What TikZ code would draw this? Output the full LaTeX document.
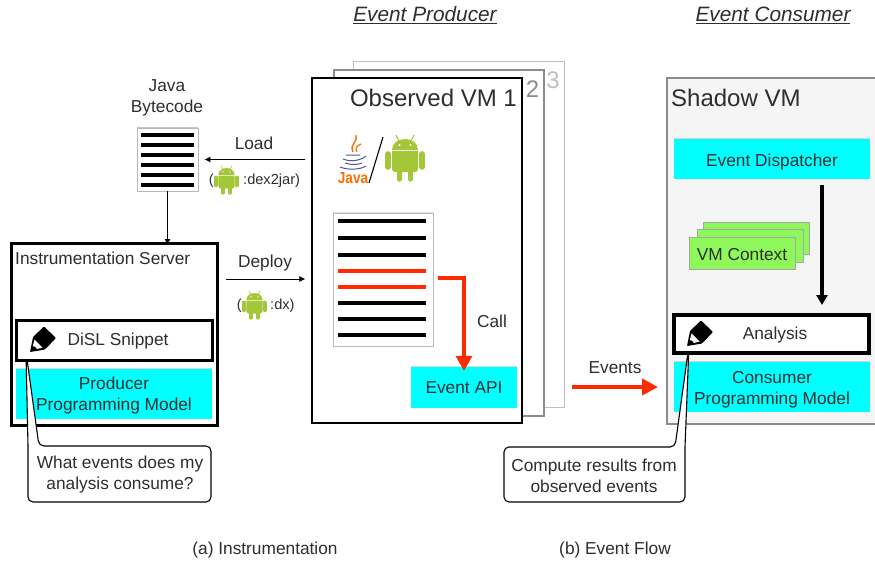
\documentclass[tikz,border=0pt]{standalone}
\usepackage{fontspec}
\setmainfont{Liberation Sans}
\usetikzlibrary{arrows.meta,shadows,calc}
\definecolor{txt}{HTML}{2E2E2E}
\definecolor{cyanbox}{HTML}{00FFFF}
\definecolor{ctxgreen}{HTML}{8EF85A}
\definecolor{andgreen}{HTML}{A4C639}
\definecolor{redarrow}{HTML}{FF2A00}
\definecolor{shadowbg}{HTML}{F5F5F5}
\tikzset{
  every node/.style={text=txt,font=\fontsize{17.3}{21}\selectfont,inner sep=0pt,align=center},
  boxat/.style 2 args={minimum width=#1,minimum height=#2,anchor=center},
  cyanrect/.style={fill=cyanbox,drop shadow={shadow xshift=0pt,shadow yshift=1.5pt,opacity=.3}},
  ctx/.style={fill=ctxgreen,draw=gray!70,line width=.8pt},
  docrect/.style={fill=white,draw=gray!55,line width=.9pt},
  vmlabel/.style={font=\fontsize{24}{28}\selectfont},
  heading/.style={font=\fontsize{20.8}{24}\selectfont\itshape},
  smalllabel/.style={font=\fontsize{14.6}{18}\selectfont},
  thinarrow/.style={-{Latex[length=6pt,width=6pt]},line width=.9pt,black},
  docline/.style={line width=3.6pt,black},
  redline/.style={line width=3.4pt,redarrow},
  calloutline/.style={fill=white,draw=black,line width=1.1pt,rounded corners=5pt,line join=round}
}
\newcommand{\androidlogo}[3]{%
  \begin{scope}[shift={(#1,#2)},scale=#3]
    \fill[andgreen] (-13,-9) .. controls (-13,-16) and (-7,-20) .. (0,-20) .. controls (7,-20) and (13,-16) .. (13,-9) -- cycle;
    \draw[andgreen,line width=#3*1pt] (-6,-18) -- (-9,-24) (6,-18) -- (9,-24);
    \fill[white] (-5.5,-14) circle (1.1) (5.5,-14) circle (1.1);
    \fill[andgreen] (-13,-8) -- (13,-8) -- (13,10) .. controls (13,12) and (12,13) .. (10,13) -- (-10,13) .. controls (-12,13) and (-13,12) .. (-13,10) -- cycle;
    \draw[andgreen,line width=#3*5.6pt,line cap=round] (-17,-5) -- (-17,8) (17,-5) -- (17,8) (-5.5,12) -- (-5.5,20) (5.5,12) -- (5.5,20);
  \end{scope}}
\newcommand{\pencilmark}[2]{%
  \begin{scope}[shift={(#1,#2)}]
    \fill[black,rounded corners=.8pt] (14,-25.5) -- (26,-14) -- (15,-2.5) -- (0,0) -- (3,-15) -- cycle;
    \fill[white] (4.5,-12.5) -- (12.5,-4.5) -- (7,-3) .. controls (5,-6) and (4,-6) .. (2.8,-5.5) -- cycle;
  \end{scope}}
\begin{document}
\begin{tikzpicture}[x=1pt,y=-1pt]
\useasboundingbox (0,0) rectangle (875,562);
\fill[white] (0,0) rectangle (875,562);

% headings
\node[heading] (prodhead) at (425,15) {\underline{Event Producer}};
\node[heading] (conshead) at (773,15) {\underline{Event Consumer}};

% stacked observed VMs
\node[boxat={211pt}{346pt},fill=white,draw=gray!50,line width=1pt] (vmthree) at (458.5,234) {};
\node[boxat={210pt}{346pt},fill=white,draw=gray!90,line width=1.1pt] (vmtwo) at (439,243) {};
\node[boxat={210pt}{345pt},fill=white,draw=black,line width=1.2pt] (vmone) at (417,250.5) {};
\node[vmlabel,text=gray!50,anchor=center] (nthree) at (553,80) {3};
\node[vmlabel,text=gray!90,anchor=center] (ntwo) at (532.5,89) {2};
\node[vmlabel,anchor=east] (vmtitle) at (517,98) {Observed VM 1};

% java logo
\draw[orange!85!red,line width=1.4pt] (356,135) .. controls (359,141) and (349,144) .. (353,152);
\draw[orange!85!red,line width=1.2pt] (361,144) .. controls (356,146) and (355,149) .. (357,152);
\draw[blue!35!gray,line width=1pt] (346,155) -- (360,155) (343,159) .. controls (350,162) and (360,161) .. (366,156) (345,163) .. controls (350,165) and (358,165) .. (362,163) (340,167) .. controls (347,170) and (360,170) .. (366,166);
\node[font=\fontsize{16}{16}\bfseries,text=orange!85!red,xscale=.85] (javaword) at (353,178) {Java};
\draw[black,line width=1.1pt] (383,137) -- (369,183);
\androidlogo{405}{159}{1}

% observed VM document
\node[boxat={100pt}{133pt},docrect,drop shadow={shadow xshift=0pt,shadow yshift=1pt,opacity=.25}] (vmdoc) at (383,279.5) {};
\foreach \yy in {221,238,255,303,319,335} \draw[docline] (338,\yy) -- (426,\yy);
\foreach \yy in {271,287} \draw[redline] (338,\yy) -- (426,\yy);
\node[boxat={106pt}{41pt},cyanrect] (api) at (464,387.5) {Event API};
\coordinate (callstart) at (438,278);
\draw[redline,-{Triangle[length=15pt,width=16pt]}] (callstart) -- (api.north |- callstart) -- ([yshift=-4pt]api.north);
\node (calllabel) at (492,321.5) {Call};

% bytecode
\node (bctitle) at (167,98) {Java\\Bytecode};
\node[boxat={61pt}{63pt},docrect,drop shadow={shadow xshift=0pt,shadow yshift=1.5pt,opacity=.45}] (bytecode) at (167.5,159.5) {};
\foreach \yy in {135,145,155,165,175,185} \draw[line width=4.6pt,black] (141,\yy) -- (194,\yy);

% load
\coordinate (loadstart) at ([xshift=-6pt]vmone.west |- bytecode.east);
\draw[thinarrow] (loadstart) -- ([xshift=6pt]bytecode.east);
\node (loadlabel) at (254,143.5) {Load};
\node[anchor=east,smalllabel] (lparen) at (214,181) {(};
\androidlogo{226.5}{180.5}{.62}
\node[anchor=west,smalllabel] (dexlabel) at (243,181) {:dex2jar)};

% instrumentation server
\node[boxat={206pt}{182pt},fill=white,draw=black,line width=3pt,drop shadow={shadow xshift=0pt,shadow yshift=2pt,opacity=.4}] (server) at (114.5,334.5) {};
\draw[thinarrow] (bytecode.south) -- ([yshift=-3pt]bytecode.south |- server.north);
\node[anchor=west] (servertitle) at (15,258.5) {Instrumentation Server};
\node[boxat={196pt}{50pt},cyanrect] (producer) at (114,394) {\raisebox{-6pt}[0pt][0pt]{Producer}\\\raisebox{-6pt}[0pt][0pt]{Programming Model}};

% left callout
\draw[calloutline] (39,446) -- (26,352) [sharp corners] -- (28,446) [rounded corners=5pt] -- (28,502) -- (211,502) -- (211,446) -- cycle;
\node (lefttext) at (120,475) {What events does my\\analysis consume?};
\node[boxat={196pt}{40pt},fill=white,draw=black,line width=3.6pt] (disl) at (114.5,340.5) {};
\pencilmark{30}{352}
\node (dislword) at (118,341.5) {DiSL Snippet};

% deploy
\coordinate (deploystart) at (226,279);
\coordinate (deployend) at ([xshift=-6pt]vmone.west |- deploystart);
\draw[thinarrow] (deploystart) -- (deployend);
\node (deploylabel) at (265,263.5) {Deploy};
\node[anchor=east,smalllabel] (dxparen) at (242,306) {(};
\androidlogo{254.5}{305.5}{.62}
\node[anchor=west,smalllabel] (dxlabel) at (270,306) {:dx)};

% shadow VM
\node[boxat={240pt}{346pt},fill=shadowbg,draw=gray!90,line width=1.1pt] (shadowvm) at (787,251) {};
\node[vmlabel,anchor=west] (shadowtitle) at (671,98) {Shadow VM};
\node[boxat={196pt}{40pt},cyanrect] (dispatcher) at (772,159) {\raisebox{-7.5pt}[0pt][0pt]{Event Dispatcher}};
\node[boxat={106pt}{32pt},ctx] (ctxc) at (756,238) {};
\node[boxat={106pt}{33pt},ctx] (ctxb) at (750,245.5) {};
\node[boxat={106pt}{32pt},ctx] (ctxa) at (742,253) {\raisebox{-7pt}[0pt][0pt]{VM Context}};
\node[boxat={196pt}{50pt},cyanrect] (consumer) at (772,387) {\raisebox{-7pt}[0pt][0pt]{Consumer}\\\raisebox{-7pt}[0pt][0pt]{Programming Model}};

% right callout
\draw[calloutline] (675,447) -- (689,345) [sharp corners] -- (685,447) [rounded corners=5pt] -- (685,502) -- (504,502) -- (504,447) -- cycle;
\node (righttext) at (594,475.5) {Compute results from\\observed events};
\node[boxat={195pt}{38pt},fill=white,draw=black,line width=3.8pt] (analysis) at (771.5,334) {};
\pencilmark{687}{346}
\node (analysisword) at (775,335) {Analysis};

% dispatcher arrow
\coordinate (dispstart) at (822,185);
\coordinate (dispend) at (dispstart |- 0,305);
\draw[black,line width=3.2pt,-{Triangle[length=10pt,width=11pt]}] (dispstart) -- (dispend);

% events arrow
\coordinate (evstart) at (572,387);
\coordinate (evend) at (658,387);
\draw[redarrow,line width=4.4pt,-{Triangle[length=16pt,width=16pt]}] (evstart) -- (evend);
\node (eventslabel) at (615,367.5) {Events};

% captions
\node (capa) at (265,550) {(a) Instrumentation};
\node (capb) at (615,550) {(b) Event Flow};
\end{tikzpicture}
\end{document}
